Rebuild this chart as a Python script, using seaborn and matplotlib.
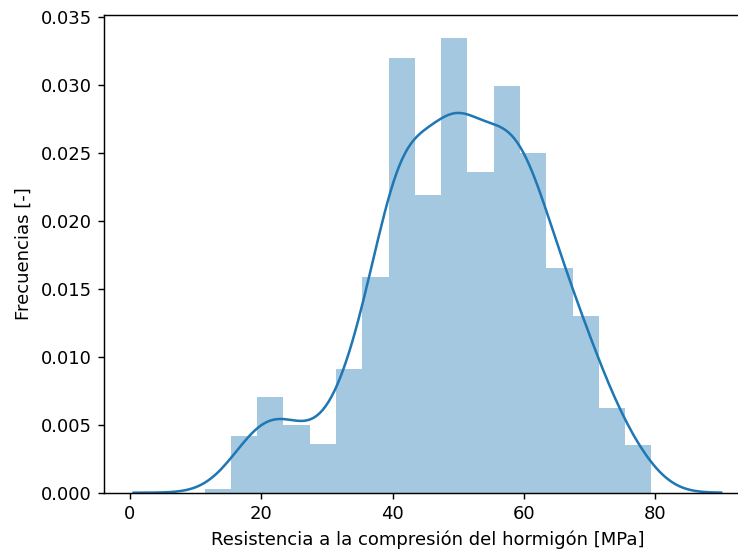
import numpy as np
import pandas as pd
import seaborn as sns
import matplotlib
matplotlib.use("Agg")
import matplotlib.pyplot as plt

# =====================================================
# DATA (density scale)
# =====================================================
bin_start = 11.35
bin_end = 79.4
n_bins = 17

densities = [
    0.00029, 0.00415, 0.00701, 0.00496, 0.00355, 0.00910,
    0.01590, 0.03200, 0.02188, 0.03346, 0.02356, 0.02992,
    0.02496, 0.01654, 0.01300, 0.00626, 0.00349,
]

kde_bandwidth = 3.7            # MPa, smoothing of the density curve
kde_support = (0.56, 90.0)     # where the density curve starts / ends

x_label = "Resistencia a la compresión del hormigón [MPa]"
y_label = "Frecuencias [-]"

# =====================================================
# PREP
# =====================================================
edges = np.linspace(bin_start, bin_end, n_bins + 1)
centers = (edges[:-1] + edges[1:]) / 2
df = pd.DataFrame({"mpa": centers, "dens": densities})

w = df["dens"] / df["dens"].sum()
mean = (df["mpa"] * w).sum()
std = np.sqrt((w * (df["mpa"] - mean) ** 2).sum())

# =====================================================
# PLOT
# =====================================================
DPI = 130
fig = plt.figure(figsize=(738 / DPI, 554 / DPI), dpi=DPI)
ax = fig.add_axes([104.3 / 738, 61.3 / 554, 0.8756, 477.7 / 554])

sns.histplot(data=df, x="mpa", weights="dens", bins=n_bins,
             binrange=(bin_start, bin_end), stat="count",
             color="C0", alpha=0.4, linewidth=0, ax=ax)
sns.kdeplot(data=df, x="mpa", weights="dens", bw_method=kde_bandwidth / std,
            cut=10, clip=kde_support, color="C0", linewidth=1.4, ax=ax)

ax.set_xlabel(x_label)
ax.set_ylabel(y_label)
ax.set_xticks([0, 20, 40, 60, 80])

fig.savefig("out.png", dpi=DPI)
plt.close(fig)
